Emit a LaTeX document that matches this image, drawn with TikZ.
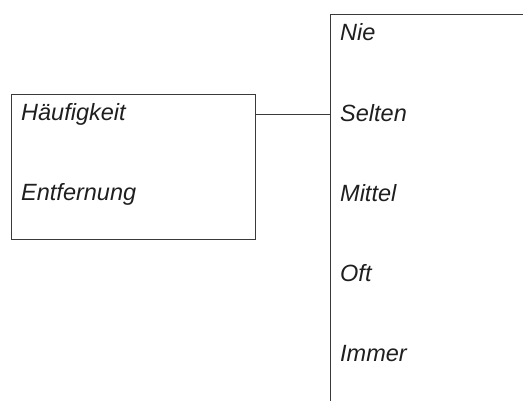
\documentclass[tikz,border=0pt]{standalone}
\usepackage{fontspec}
\setmainfont{Liberation Sans}
\begin{document}
\begin{tikzpicture}[x=1pt,y=-1pt,
  box/.style={draw=linegray,line width=1pt,inner sep=0pt},
  lbl/.style={anchor=base west,inner sep=0pt,font=\fontsize{23.5}{28}\selectfont\itshape,text=black!88}]
\definecolor{linegray}{HTML}{3A3A3A}
\useasboundingbox (0,0) rectangle (523,400);
\clip (0,0) rectangle (523,400);
% left box
\node[box,minimum width=244pt,minimum height=145pt,anchor=north west] (freq) at (10.5,94) {};
\node[lbl] (haeuf) at (21,120) {Häufigkeit};
\node[lbl] (entf) at (21,200) {Entfernung};
% right box (extends beyond picture)
\node[box,minimum width=260pt,minimum height=420pt,anchor=north west] (scale) at (329.5,14) {};
\node[lbl] (nie) at (340,40) {Nie};
\node[lbl] (selten) at (340,121) {Selten};
\node[lbl] (mittel) at (340,201) {Mittel};
\node[lbl] (oft) at (340,281) {Oft};
\node[lbl] (immer) at (340,361) {Immer};
% connector
\coordinate (conn) at (0,114);
\draw[draw=linegray,line width=1pt] (freq.east |- conn) -- (scale.west |- conn);
\end{tikzpicture}
\end{document}
